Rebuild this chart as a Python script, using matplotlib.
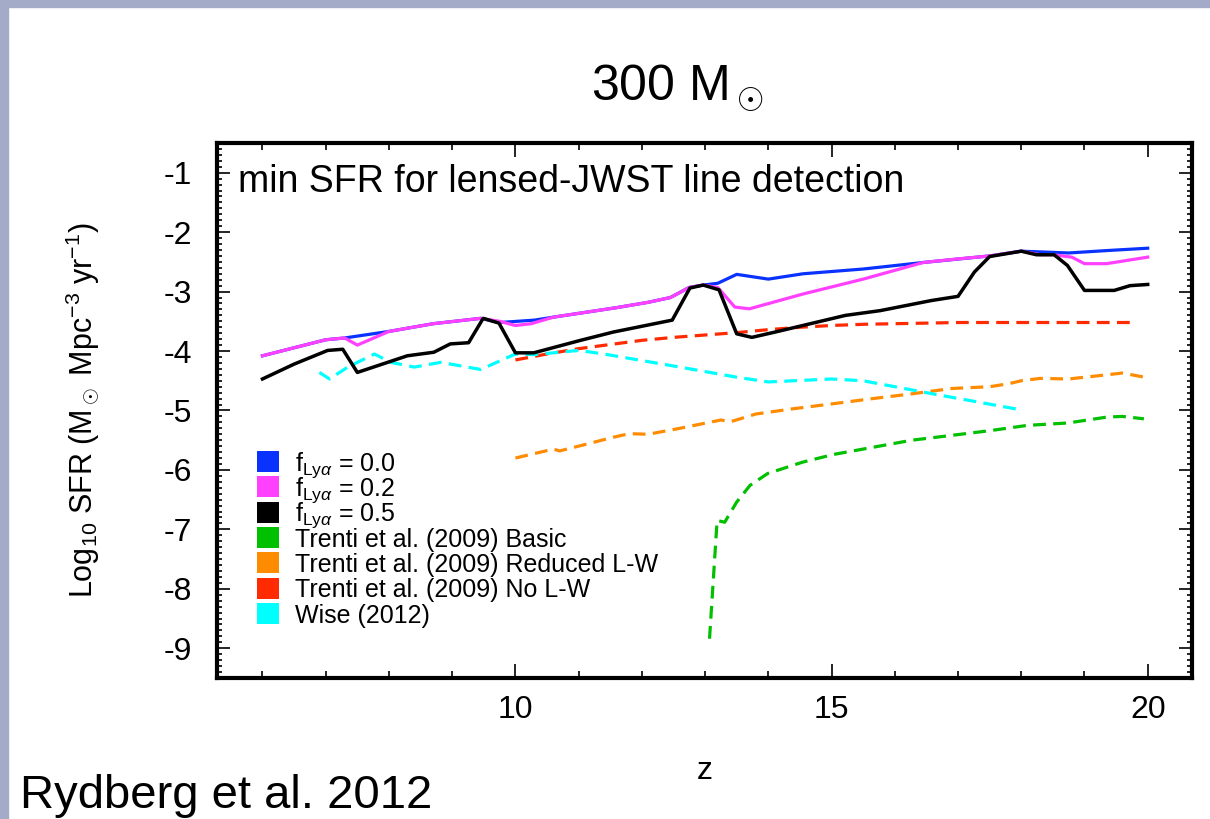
import matplotlib
matplotlib.use("Agg")
import matplotlib.pyplot as plt
from matplotlib.patches import Rectangle
from matplotlib.ticker import MultipleLocator

plt.rcParams['font.family'] = ['Liberation Sans', 'DejaVu Sans']
plt.rcParams['mathtext.fontset'] = 'custom'
plt.rcParams['mathtext.rm'] = 'Liberation Sans'
plt.rcParams['mathtext.it'] = 'Liberation Sans:italic'
plt.rcParams['mathtext.bf'] = 'Liberation Sans:bold'
plt.rcParams['axes.unicode_minus'] = False

# f_Lya = 0.0
z_f00 = [6.0, 7.0, 7.3, 8.0, 8.7, 9.45, 9.75, 10.3, 10.6, 11.1, 11.6, 12.1, 12.45,
         12.75, 12.97, 13.2, 13.5, 14.0, 14.55, 15.5, 16.45, 17.5, 18.0, 18.75, 19.35, 20.0]
sfr_f00 = [-4.08, -3.81, -3.78, -3.67, -3.54, -3.45, -3.52, -3.48, -3.43, -3.35, -3.27, -3.18, -3.10,
           -2.93, -2.89, -2.86, -2.71, -2.79, -2.70, -2.62, -2.51, -2.40, -2.32, -2.35, -2.31, -2.27]

# f_Lya = 0.2
z_f02 = [6.0, 7.0, 7.3, 7.5, 8.0, 8.7, 9.45, 9.75, 10.0, 10.25, 10.6, 11.1, 11.6, 12.1, 12.45,
         12.75, 12.97, 13.2, 13.47, 13.7, 14.55, 15.5, 16.45, 17.0, 17.5, 18.0, 18.3, 18.5,
         18.8, 19.0, 19.35, 20.0]
sfr_f02 = [-4.08, -3.81, -3.78, -3.90, -3.67, -3.54, -3.45, -3.50, -3.57, -3.54, -3.43, -3.35, -3.27,
           -3.18, -3.10, -2.93, -2.89, -2.93, -3.26, -3.29, -3.04, -2.79, -2.51, -2.45, -2.40, -2.32,
           -2.38, -2.38, -2.42, -2.53, -2.53, -2.42]

# f_Lya = 0.5
z_f05 = [6.0, 6.5, 7.03, 7.27, 7.5, 7.98, 8.29, 8.71, 8.97, 9.26, 9.49, 9.74, 10.0, 10.29, 11.03,
         11.55, 12.48, 12.76, 12.97, 13.22, 13.5, 13.74, 14.11, 15.22, 15.77, 16.58, 17.0, 17.26,
         17.5, 18.0, 18.24, 18.52, 18.73, 19.0, 19.47, 19.72, 20.0]
sfr_f05 = [-4.47, -4.22, -3.99, -3.97, -4.36, -4.19, -4.08, -4.02, -3.88, -3.86, -3.45, -3.53, -4.03,
           -4.03, -3.82, -3.68, -3.48, -2.94, -2.89, -2.97, -3.71, -3.77, -3.68, -3.40, -3.32, -3.15,
           -3.08, -2.67, -2.41, -2.32, -2.38, -2.38, -2.56, -2.98, -2.98, -2.90, -2.88]

# Trenti et al. (2009) Basic
z_basic = [13.07, 13.19, 13.31, 13.5, 13.71, 13.99, 14.54, 15.03, 15.65, 16.27, 16.89, 17.5,
           18.1, 18.74, 19.36, 19.6, 19.94]
sfr_basic = [-8.84, -6.85, -6.88, -6.54, -6.26, -6.06, -5.87, -5.74, -5.62, -5.50, -5.42, -5.34,
             -5.25, -5.21, -5.11, -5.10, -5.14]

# Trenti et al. (2009) Reduced L-W
z_reduced = [10.0, 10.6, 10.7, 11.0, 11.55, 11.8, 12.1, 12.6, 13.25, 13.4, 13.8, 14.4, 15.0,
             15.65, 16.27, 16.9, 17.5, 17.8, 18.0, 18.3, 18.75, 19.35, 19.6, 19.95]
sfr_reduced = [-5.80, -5.65, -5.68, -5.60, -5.45, -5.39, -5.40, -5.30, -5.16, -5.19, -5.06, -4.97,
               -4.89, -4.80, -4.72, -4.63, -4.60, -4.55, -4.50, -4.46, -4.47, -4.40, -4.37, -4.44]

# Trenti et al. (2009) No L-W
z_nolw = [10.0, 10.5, 11.0, 11.5, 12.0, 12.5, 13.0, 13.5, 14.0, 14.5, 15.0, 15.5, 16.0, 16.5,
          17.0, 18.0, 19.0, 19.75]
sfr_nolw = [-4.15, -4.05, -3.96, -3.89, -3.82, -3.77, -3.73, -3.69, -3.64, -3.60, -3.57, -3.55,
            -3.54, -3.53, -3.52, -3.52, -3.52, -3.52]

# Wise (2012)
z_wise = [6.9, 7.06, 7.35, 7.77, 8.03, 8.4, 8.82, 9.45, 10.0, 10.3, 11.0, 11.4, 12.0, 12.6,
          13.5, 14.0, 15.0, 15.5, 16.6, 18.0]
sfr_wise = [-4.36, -4.47, -4.27, -4.05, -4.19, -4.27, -4.19, -4.31, -4.05, -4.06, -3.99, -4.05,
            -4.16, -4.27, -4.44, -4.52, -4.47, -4.50, -4.72, -4.99]

labels = [r"f$_{\mathrm{Ly}\alpha}$ = 0.0", r"f$_{\mathrm{Ly}\alpha}$ = 0.2", r"f$_{\mathrm{Ly}\alpha}$ = 0.5",
          "Trenti et al. (2009) Basic", "Trenti et al. (2009) Reduced L-W",
          "Trenti et al. (2009) No L-W", "Wise (2012)"]
colors = ['#0a32ff', '#ff40ff', '#000000', '#00c000', '#ff8c00', '#ff2a00', '#00ffff']

fig = plt.figure(figsize=(12.1, 8.19), dpi=100)
# slide border
fig.patches.append(Rectangle((0, 0.991), 1, 0.009, transform=fig.transFigure, color='#a3abc9', zorder=0))
fig.patches.append(Rectangle((0, 0), 0.0066, 1, transform=fig.transFigure, color='#a3abc9', zorder=0))

ax = fig.add_axes([0.1793, 0.1722, 0.8058, 0.6532])

dash = (4, 2.3)
ax.plot(z_nolw, sfr_nolw, color=colors[5], lw=2.3, dashes=dash)
ax.plot(z_reduced, sfr_reduced, color=colors[4], lw=2.3, dashes=dash)
ax.plot(z_basic, sfr_basic, color=colors[3], lw=2.3, dashes=dash)
ax.plot(z_wise, sfr_wise, color=colors[6], lw=2.3, dashes=dash)
ax.plot(z_f00, sfr_f00, color=colors[0], lw=2.3)
ax.plot(z_f02, sfr_f02, color=colors[1], lw=2.3)
ax.plot(z_f05, sfr_f05, color=colors[2], lw=2.5)

ax.set_xlim(5.28, 20.7)
ax.set_ylim(-9.5, -0.5)
ax.xaxis.set_major_locator(MultipleLocator(5))
ax.xaxis.set_minor_locator(MultipleLocator(1))
ax.yaxis.set_major_locator(MultipleLocator(1))
ax.yaxis.set_minor_locator(MultipleLocator(0.1))
ax.tick_params(which='both', direction='in', top=True, right=True, width=1.2)
ax.tick_params(axis='x', which='major', length=10, labelsize=23, pad=12)
ax.tick_params(axis='x', which='minor', length=5)
ax.tick_params(axis='y', which='major', length=9.5, labelsize=23, pad=18)
ax.tick_params(axis='y', which='minor', length=3.6)
for s in ax.spines.values():
    s.set_linewidth(3)

ax.set_xlabel("z", fontsize=23)
ax.xaxis.set_label_coords(0.5, -0.145)
ax.set_ylabel(r"Log$_{10}$ SFR (M$_\odot$ Mpc$^{-3}$ yr$^{-1}$)", fontsize=22)
ax.yaxis.set_label_coords(-0.118, 0.5)

ax.text(0.0215, 0.908, "min SFR for lensed-JWST line detection", transform=ax.transAxes,
        fontsize=27, va='baseline', ha='left')

# legend: colour squares with labels, evenly spaced rows
row0 = 0.405
step = 0.0475
for i, (lab, c) in enumerate(zip(labels, colors)):
    yc = row0 - i * step
    ax.add_patch(Rectangle((0.041, yc - 0.0196), 0.0226, 0.0392, transform=ax.transAxes,
                           facecolor=c, edgecolor='none', clip_on=False))
    ax.text(0.0800, yc - 0.017, lab, transform=ax.transAxes, fontsize=18,
            va='baseline', ha='left')

fig.text(0.56, 0.878, r"300 M$_\odot$", fontsize=36, ha='center', va='baseline')
fig.text(0.0165, 0.014, "Rydberg et al. 2012", fontsize=34, ha='left', va='baseline')

fig.savefig("out.png", dpi=100)
